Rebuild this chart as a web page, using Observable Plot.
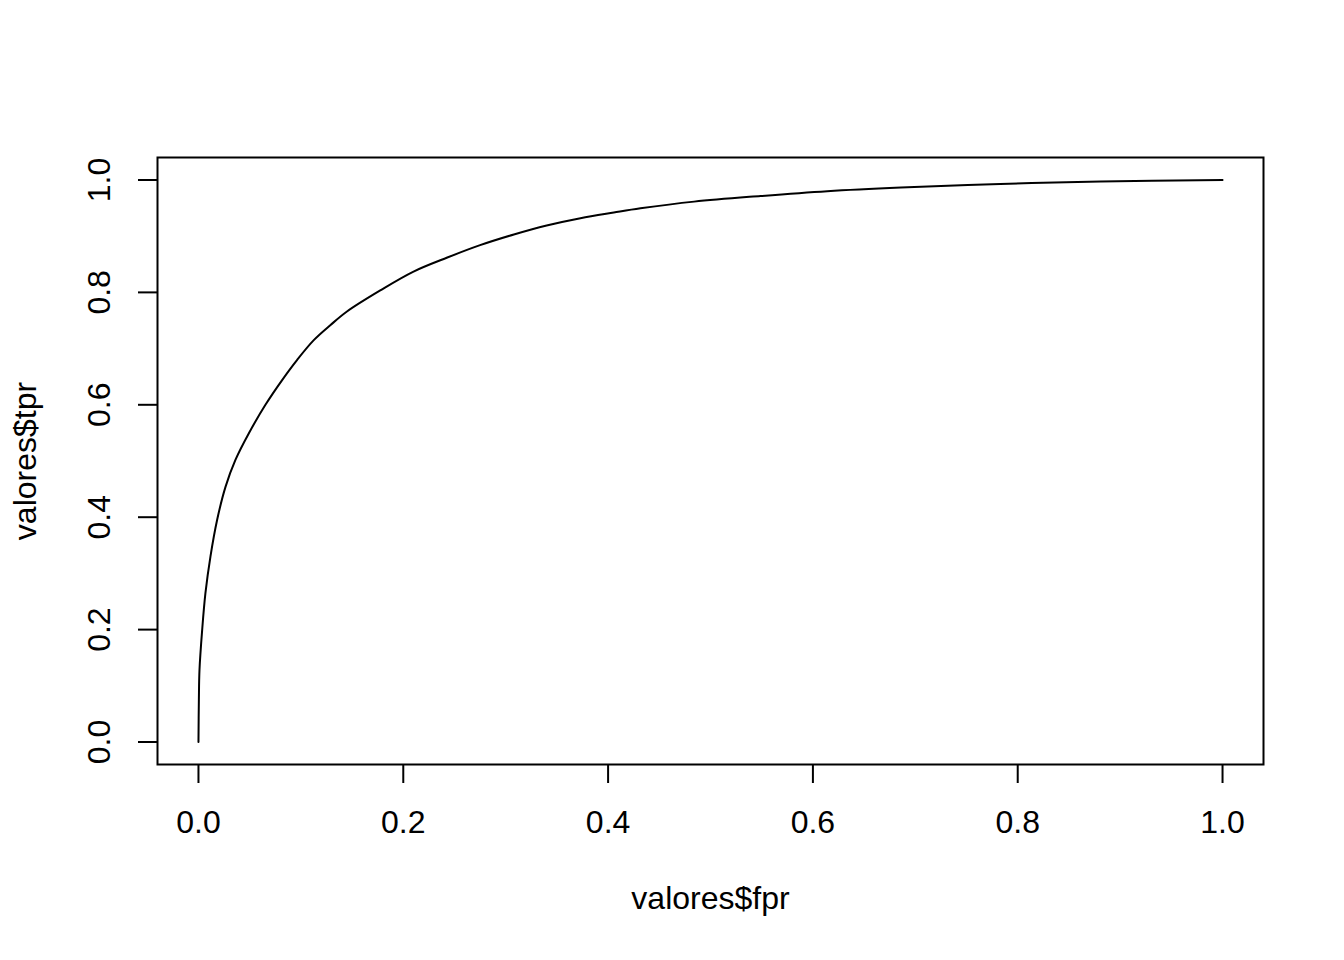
<!DOCTYPE html>
<html>
<head>
<meta charset="utf-8">
<script src="https://cdn.jsdelivr.net/npm/d3@7"></script>
<script src="https://cdn.jsdelivr.net/npm/@observablehq/plot@0.6"></script>
<style>
  html, body { margin: 0; padding: 0; background: #ffffff; }
  #chart svg { display: block; }
</style>
</head>
<body>
<div id="chart"></div>
<script>
// ROC curve points
const fpr = [0, 0.0004, 0.001, 0.0036, 0.0068, 0.0117, 0.0182, 0.0264, 0.0361, 0.0491, 0.0654, 0.0817, 0.0964, 0.1126, 0.129, 0.145, 0.178, 0.210, 0.243, 0.275, 0.308, 0.340, 0.373, 0.4056, 0.4316, 0.484, 0.549, 0.614, 0.686, 0.783, 0.881, 1.0];
const tpr = [0, 0.075, 0.128, 0.199, 0.265, 0.330, 0.395, 0.454, 0.502, 0.549, 0.600, 0.644, 0.680, 0.715, 0.742, 0.766, 0.804, 0.837, 0.862, 0.884, 0.903, 0.919, 0.932, 0.942, 0.9495, 0.9615, 0.9715, 0.980, 0.9865, 0.993, 0.9975, 1.0];
const xTicks = [0, 0.2, 0.4, 0.6, 0.8, 1.0];
const yTicks = [0, 0.2, 0.4, 0.6, 0.8, 1.0];
const xTitle = "valores$fpr";
const yTitle = "valores$tpr";

const data = fpr.map((f, i) => ({fpr: f, tpr: tpr[i]}));
const font = "'Liberation Sans', Arial, Helvetica, sans-serif";

const chart = Plot.plot({
  width: 1344,
  height: 960,
  marginLeft: 157,
  marginRight: 81,
  marginTop: 157,
  marginBottom: 196,
  style: {fontFamily: font, fontSize: "32px", color: "#000", background: "#fff"},
  x: {domain: [-0.04, 1.04]},
  y: {domain: [-0.04, 1.04]},
  marks: [
    Plot.frame({stroke: "#000", strokeWidth: 2}),
    Plot.line(data, {x: "fpr", y: "tpr", stroke: "#000", strokeWidth: 2, curve: "catmull-rom"}),
    Plot.axisX(xTicks, {
      tickSize: 19, tickPadding: 27, strokeWidth: 2, fontSize: 32,
      tickFormat: d3.format(".1f"), label: null, fill: "#000", stroke: "#000"
    }),
    Plot.axisY(yTicks, {
      tickSize: 19, tickPadding: 29, tickRotate: -90, strokeWidth: 2, fontSize: 32,
      tickFormat: d3.format(".1f"), label: null, fill: "#000", stroke: "#000"
    }),
    Plot.text([xTitle], {
      text: d => d, frameAnchor: "bottom", lineAnchor: "bottom", textAnchor: "middle",
      dy: 144, fontSize: 32, fill: "#000"
    }),
    Plot.text([yTitle], {
      text: d => d, frameAnchor: "left", lineAnchor: "bottom", textAnchor: "middle",
      rotate: -90, dx: -122, fontSize: 32, fill: "#000"
    })
  ]
});
document.getElementById("chart").appendChild(chart);
</script>
</body>
</html>
